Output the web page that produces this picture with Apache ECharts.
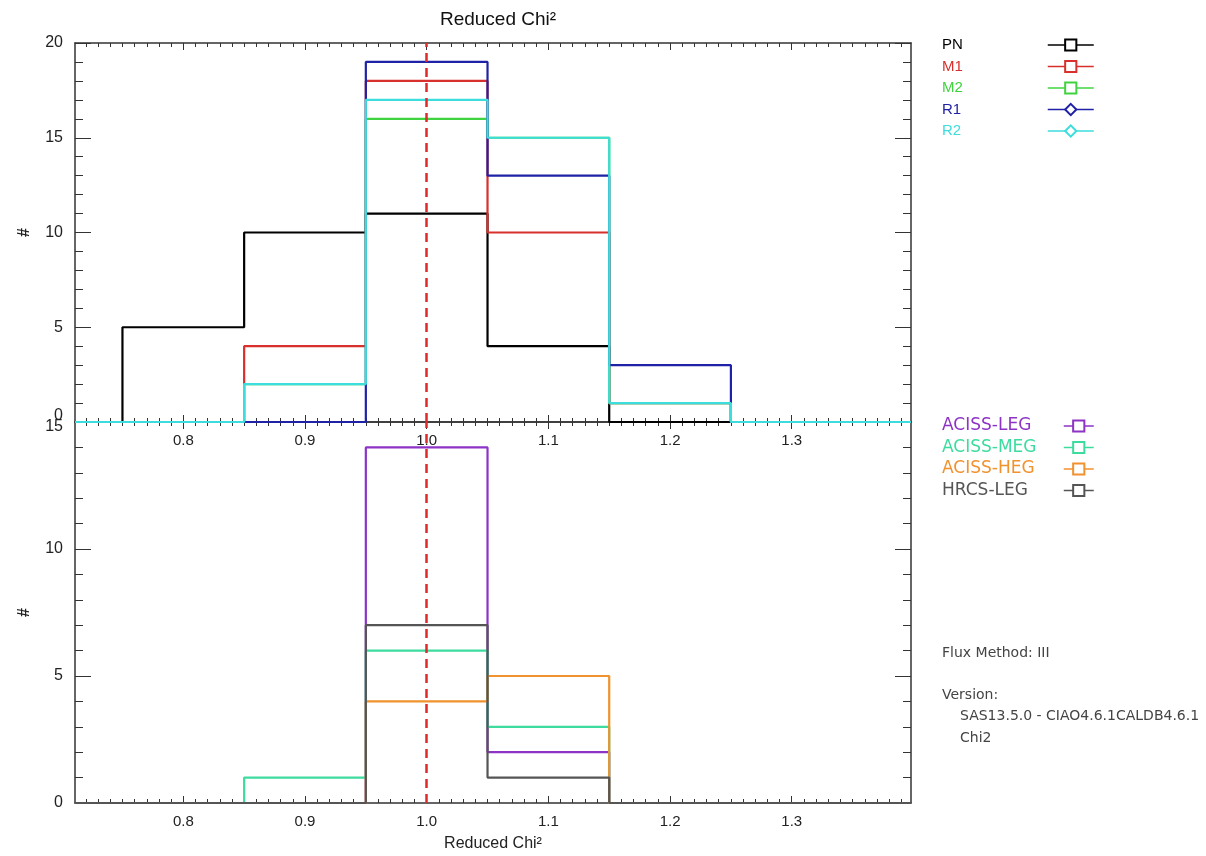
<!DOCTYPE html>
<html><head><meta charset="utf-8">
<script src="https://cdn.jsdelivr.net/npm/echarts@6/dist/echarts.min.js"></script>
<style>html,body{margin:0;padding:0;background:#fff}#c{width:1206px;height:856px}</style>
</head><body><div id="c"></div><script>
// ---- data ----
const xRange = [0.711, 1.398];
const xTickLabels = [0.8, 0.9, 1.0, 1.1, 1.2, 1.3];
const binEdges = [0.75, 0.85, 0.95, 1.05, 1.15, 1.25];
const topNames = ['PN', 'M1', 'M2', 'R1', 'R2'];
const PN = [5, 10, 11, 4, 0];
const M1 = [0, 4, 18, 10, 1];
const M2 = [0, 2, 16, 15, 1];
const R1 = [0, 0, 19, 13, 3];
const R2 = [0, 2, 17, 15, 1];
const botNames = ['ACISS-LEG', 'ACISS-MEG', 'ACISS-HEG', 'HRCS-LEG'];
const ACISS_LEG = [0, 0, 14, 2, 0];
const ACISS_MEG = [0, 1, 6, 3, 0];
const ACISS_HEG = [0, 0, 4, 5, 0];
const HRCS_LEG = [0, 0, 7, 1, 0];
const refValue = 1.0;
const topYMax = 20, botYMax = 15;
const infoLines = ['Flux Method: III', 'Version:', 'SAS13.5.0 - CIAO4.6.1CALDB4.6.1', 'Chi2'];

// ---- styles ----
const topColors = ['#000000', '#d8302c', '#3fd43f', '#1f22a6', '#3ddddd'];
const topSymbols = ['emptyRect', 'emptyRect', 'emptyRect', 'emptyDiamond', 'emptyDiamond'];
const botColors = ['#8d33c6', '#3ddc9e', '#f0922e', '#555555'];
const axisColor = '#333';
const sans = 'Liberation Sans, Arial, sans-serif';
const thin = 'DejaVu Sans, sans-serif';

const minorVals = [];
for (let k = 72; k <= 139; k++) { if (k % 10 !== 0) minorVals.push(k / 100); }

function stepData(counts) {
  const d = [[xRange[0], 0]];
  counts.forEach((c, i) => d.push([binEdges[i], c]));
  d.push([binEdges[binEdges.length - 1], 0]);
  d.push([xRange[1], 0]);
  return d;
}

function xAx(grid, pos, major, labels, name) {
  return {
    type: 'value', gridIndex: grid, position: pos, min: xRange[0], max: xRange[1],
    axisLine: { show: major, onZero: false, lineStyle: { color: axisColor, width: 1.5 } },
    splitLine: { show: false },
    axisTick: { show: true, inside: true, length: major ? 7 : 4, customValues: major ? xTickLabels : minorVals,
      lineStyle: { color: axisColor, width: 1 } },
    axisLabel: { show: labels, customValues: xTickLabels, formatter: v => v.toFixed(1),
      fontSize: 15, color: '#222', margin: 11, fontFamily: sans },
    name: name || '', nameLocation: 'middle', nameGap: 33,
    nameTextStyle: { fontSize: 16, color: '#222', fontFamily: sans }
  };
}
function yAx(grid, pos, max, labels, fmt) {
  return {
    type: 'value', gridIndex: grid, position: pos, min: 0, max: max, interval: 5,
    axisLine: { show: true, onZero: false, lineStyle: { color: axisColor, width: 1.5 } },
    axisTick: { show: true, inside: true, length: 16, lineStyle: { color: axisColor, width: 1 } },
    minorTick: { show: true, splitNumber: 5, length: 8, lineStyle: { color: axisColor, width: 1 } },
    splitLine: { show: false },
    axisLabel: { show: labels, fontSize: 16, color: '#222', margin: 12, fontFamily: sans,
      formatter: fmt, rich: { lo: { padding: [0, 0, 12, 0], fontSize: 16, fontFamily: sans, color: '#222' },
                              hi: { padding: [10, 0, 0, 0], fontSize: 16, fontFamily: sans, color: '#222' } } },
    name: labels ? '#' : '', nameLocation: 'middle', nameGap: 42,
    nameTextStyle: { fontSize: 16, color: '#222', fontFamily: sans, fontWeight: 'bold' }
  };
}
function stepSeries(name, counts, color, symbol, panel, z) {
  return {
    name, type: 'line', step: 'end', data: stepData(counts),
    xAxisIndex: panel === 0 ? 0 : 4, yAxisIndex: panel === 0 ? 0 : 2,
    showSymbol: false, symbol: symbol, symbolSize: 8,
    lineStyle: { color, width: 2.2 }, itemStyle: { color },
    emphasis: { disabled: true }, silent: true, animation: false, z: z
  };
}
const dashLine = {
  symbol: 'none', silent: true, animation: false,
  lineStyle: { color: '#e02a2a', width: 2.5, type: [9, 6] },
  label: { show: false }, data: [{ xAxis: refValue }]
};

const topData = [PN, M1, M2, R1, R2];
const botData = [ACISS_LEG, ACISS_MEG, ACISS_HEG, HRCS_LEG];
const series = [];
topNames.forEach((n, i) => series.push(stepSeries(n, topData[i], topColors[i], topSymbols[i], 0, 2 + i)));
botNames.forEach((n, i) => series.push(stepSeries(n, botData[i], botColors[i], 'emptyRect', 1, 2 + i)));
series[topNames.length - 1].markLine = Object.assign({}, dashLine, { z: 10 });
series[series.length - 1].markLine = Object.assign({}, dashLine, { z: 10 });

function textLegend(names, colors, top, font, size) {
  return {
    orient: 'vertical', left: 936, top: top, padding: 0, itemGap: 3.5,
    itemWidth: 0, itemHeight: 0, selectedMode: false,
    data: names.map((n, i) => ({ name: n, textStyle: { color: colors[i] } })),
    textStyle: { fontSize: size, lineHeight: 18, fontFamily: font }
  };
}
function iconLegend(names, left, width, top) {
  return {
    orient: 'vertical', left: left, top: top, padding: 0, itemGap: 3.5,
    itemWidth: width, itemHeight: 14, selectedMode: false, formatter: () => ' ',
    lineStyle: { width: 1.5 },
    data: names, textStyle: { fontSize: 15, lineHeight: 18 }
  };
}

const infoY = [646, 688, 709, 731];
const infoX = [942, 942, 960, 960];

const option = {
  backgroundColor: '#fff',
  animation: false,
  title: {
    text: 'Reduced Chi²', left: 493, top: 5, textAlign: 'center',
    textStyle: { fontSize: 19, fontWeight: 'normal', color: '#111', fontFamily: sans }
  },
  grid: [
    { left: 75, right: 295, top: 43, height: 379 },
    { left: 75, right: 295, top: 422, height: 381 }
  ],
  xAxis: [
    xAx(0, 'bottom', true, true),
    xAx(0, 'bottom', false, false),
    xAx(0, 'top', true, false),
    xAx(0, 'top', false, false),
    xAx(1, 'bottom', true, true, 'Reduced Chi²'),
    xAx(1, 'bottom', false, false),
    xAx(1, 'top', true, false),
    xAx(1, 'top', false, false)
  ],
  yAxis: [
    yAx(0, 'left', topYMax, true, v => (v === 0 ? '{lo|0}' : String(v))),
    yAx(0, 'right', topYMax, false),
    yAx(1, 'left', botYMax, true, v => (v === botYMax ? '{hi|' + v + '}' : String(v))),
    yAx(1, 'right', botYMax, false)
  ],
  legend: [
    textLegend(topNames, topColors, 36, sans, 15),
    iconLegend(topNames, 1047, 46, 36),
    textLegend(botNames, botColors, 417, thin, 17),
    iconLegend(botNames, 1063, 30, 417)
  ],
  graphic: infoLines.map((t, i) => ({
    type: 'text', left: infoX[i], top: infoY[i], silent: true,
    style: { text: t, fontSize: 14, fill: '#444', fontFamily: thin }
  })),
  series: series
};
const chart = echarts.init(document.getElementById('c'), null, { renderer: 'canvas' });
chart.setOption(option);
</script></body></html>
